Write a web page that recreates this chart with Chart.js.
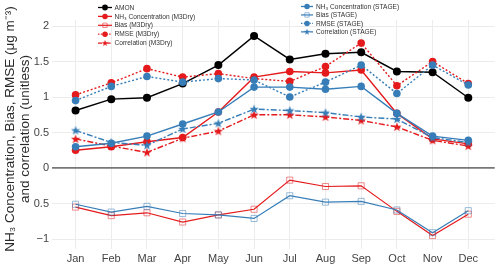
<!DOCTYPE html>
<html>
<head>
<meta charset="utf-8">
<script src="https://cdn.jsdelivr.net/npm/chart.js@4.4.1/dist/chart.umd.min.js"></script>
<style>
  html, body { margin: 0; padding: 0; background: #fff; }
  #wrap { width: 500px; height: 267px; position: relative; }
</style>
</head>
<body>
<div id="wrap"><canvas id="c"></canvas></div>
<script>
// ---- data ----
const months = ['Jan','Feb','Mar','Apr','May','Jun','Jul','Aug','Sep','Oct','Nov','Dec'];
const amon   = [0.81,0.97,0.99,1.19,1.45,1.86,1.53,1.61,1.63,1.36,1.35,0.99];
const concM3 = [0.25,0.30,0.37,0.43,0.79,1.28,1.36,1.34,1.38,0.77,0.41,0.34];
const biasM3 = [-0.55,-0.67,-0.63,-0.76,-0.66,-0.58,-0.17,-0.26,-0.25,-0.61,-0.95,-0.65];
const rmseM3 = [1.03,1.20,1.40,1.28,1.33,1.26,1.22,1.43,1.76,1.16,1.50,1.19];
const corrM3 = [0.41,0.31,0.22,0.42,0.52,0.75,0.75,0.72,0.67,0.58,0.39,0.31];
const concST = [0.30,0.35,0.45,0.62,0.79,1.14,1.14,1.11,1.15,0.77,0.45,0.39];
const biasST = [-0.51,-0.62,-0.54,-0.64,-0.66,-0.71,-0.39,-0.48,-0.47,-0.59,-0.91,-0.60];
const rmseST = [0.95,1.15,1.29,1.21,1.26,1.24,1.00,1.21,1.45,1.05,1.45,1.17];
const corrST = [0.53,0.36,0.32,0.55,0.63,0.83,0.81,0.78,0.72,0.69,0.43,0.36];
const yTicks      = [-1, -0.5, 0, 0.5, 1, 1.5, 2];
const yTickLabels = ['\u22121', '0.5', '0', '0.5', '1', '1.5', '2'];
const yTitle = ['NH\u2083 Concentration, Bias, RMSE (\u03bcg m\u207b\u00b3)', 'and correlation (unitless)'];

const RED = '#e41a1c', BLUE = '#377eb8';
const RED_L = 'rgba(228,26,28,0.5)', BLUE_L = 'rgba(55,126,184,0.5)';

function starImg(color) {
  const c = document.createElement('canvas');
  c.width = 10; c.height = 10;
  const g = c.getContext('2d');
  g.fillStyle = color;
  g.beginPath();
  const R = 4.8, r = 2.0, cx = 5, cy = 5.3;
  for (let i = 0; i < 10; i++) {
    const rad = i % 2 === 0 ? R : r;
    const a = -Math.PI / 2 + i * Math.PI / 5;
    const x = cx + rad * Math.cos(a), y = cy + rad * Math.sin(a);
    i === 0 ? g.moveTo(x, y) : g.lineTo(x, y);
  }
  g.closePath();
  g.fill();
  return c;
}
const starRed = starImg(RED), starBlue = starImg(BLUE);

const pts = arr => arr.map((v, i) => ({x: i, y: v}));

function ds(label, arr, color, opts) {
  return Object.assign({
    label, data: pts(arr),
    borderColor: color, backgroundColor: color,
    pointBackgroundColor: color, pointBorderColor: color,
    borderWidth: 1.4, pointRadius: 3.8, pointBorderWidth: 0,
    pointStyle: 'circle', tension: 0, fill: false
  }, opts || {});
}

const datasets = [
  ds('AMON', amon, '#000000', {pointRadius: 4}),
  ds('NH\u2083 Concentration (M3Dry)', concM3, RED),
  ds('Bias (M3Dry)', biasM3, RED, {borderWidth: 1.2, pointStyle: 'rect', pointRadius: 4.3, pointBorderWidth: 1,
      pointBackgroundColor: 'rgba(0,0,0,0)', pointBorderColor: RED_L}),
  ds('RMSE (M3Dry)', rmseM3, RED, {borderDash: [2, 2]}),
  ds('Correlation (M3Dry)', corrM3, RED, {borderDash: [6, 2, 2, 2], pointStyle: starRed}),
  ds('NH\u2083 Concentration (STAGE)', concST, BLUE),
  ds('Bias (STAGE)', biasST, BLUE, {borderWidth: 1.2, pointStyle: 'rect', pointRadius: 4.3, pointBorderWidth: 1,
      pointBackgroundColor: 'rgba(0,0,0,0)', pointBorderColor: BLUE_L}),
  ds('RMSE (STAGE)', rmseST, BLUE, {borderDash: [2, 2]}),
  ds('Correlation (STAGE)', corrST, BLUE, {borderDash: [6, 2, 2, 2], pointStyle: starBlue})
];
datasets.forEach((d, i) => d.order = datasets.length - i);

const legendGroups = [
  {x1: 98, x2: 112, tx: 114.5, y0: 7.5, dy: 8.9, idx: [0, 1, 2, 3, 4]},
  {x1: 301, x2: 313, tx: 316, y0: 6.5, dy: 8.45, idx: [5, 6, 7, 8]}
];

const legendPlugin = {
  id: 'twoLegends',
  afterDraw(chart) {
    const ctx = chart.ctx;
    // y-axis title
    ctx.save();
    ctx.translate(10, 129);
    ctx.rotate(-Math.PI / 2);
    ctx.fillStyle = '#2a2a2a';
    ctx.font = '13.5px "Liberation Sans", Arial, sans-serif';
    ctx.textAlign = 'center';
    ctx.textBaseline = 'middle';
    ctx.fillText(yTitle[0], 0, 0);
    ctx.fillText(yTitle[1], 0, 15);
    ctx.restore();

    legendGroups.forEach(g => {
      g.idx.forEach((di, k) => {
        const d = chart.data.datasets[di];
        const y = g.y0 + k * g.dy;
        const cx = (g.x1 + g.x2) / 2;
        ctx.save();
        ctx.strokeStyle = d.borderColor;
        ctx.lineWidth = Math.min(d.borderWidth, 1.3);
        ctx.setLineDash(d.borderDash ? d.borderDash.map(v => v * 0.7) : []);
        ctx.beginPath();
        ctx.moveTo(g.x1, y); ctx.lineTo(g.x2, y);
        ctx.stroke();
        ctx.setLineDash([]);
        if (d.pointStyle instanceof HTMLCanvasElement) {
          ctx.drawImage(d.pointStyle, cx - 3.5, y - 3.5, 7, 7);
        } else {
          ctx.fillStyle = d.pointBackgroundColor;
          ctx.strokeStyle = d.pointBorderColor;
          ctx.lineWidth = d.pointBorderWidth;
          Chart.helpers.drawPoint(ctx, {
            pointStyle: d.pointStyle, radius: d.pointRadius * 0.72, rotation: 0,
            borderWidth: d.pointBorderWidth
          }, cx, y);
        }
        ctx.restore();
        ctx.save();
        ctx.fillStyle = '#333';
        ctx.font = '6.6px "Liberation Sans", Arial, sans-serif';
        ctx.textBaseline = 'middle';
        ctx.fillText(d.label, g.tx, y + 0.3);
        ctx.restore();
      });
    });
  }
};

new Chart(document.getElementById('c'), {
  type: 'line',
  data: {datasets},
  options: {
    responsive: true,
    maintainAspectRatio: false,
    animation: false,
    layout: {padding: {top: 20, right: 3, left: 0, bottom: 0}},
    plugins: {legend: {display: false}, tooltip: {enabled: false}},
    scales: {
      x: {
        type: 'linear', min: -0.66, max: 11.74,
        afterBuildTicks: s => { s.ticks = months.map((m, i) => ({value: i})); },
        afterFit: s => { s.height = 18; },
        ticks: {callback: v => months[v], color: '#444', padding: 3,
                font: {family: '"Liberation Sans", Arial, sans-serif', size: 11}},
        grid: {color: '#ececec', lineWidth: 1, drawTicks: false},
        border: {display: false}
      },
      y: {
        type: 'linear', min: -1.14, max: 2.085,
        afterBuildTicks: s => { s.ticks = yTicks.map(v => ({value: v})); },
        afterFit: s => { s.width = 52; },
        ticks: {callback: (v) => yTickLabels[yTicks.indexOf(v)], color: '#444', padding: 3,
                font: {family: '"Liberation Sans", Arial, sans-serif', size: 11}},
        grid: {
          color: c => (c.tick && c.tick.value === 0) ? '#777777' : '#ececec',
          lineWidth: c => (c.tick && c.tick.value === 0) ? 1.8 : 1,
          drawTicks: false
        },
        border: {display: false}
      }
    }
  },
  plugins: [legendPlugin]
});
</script>
</body>
</html>
